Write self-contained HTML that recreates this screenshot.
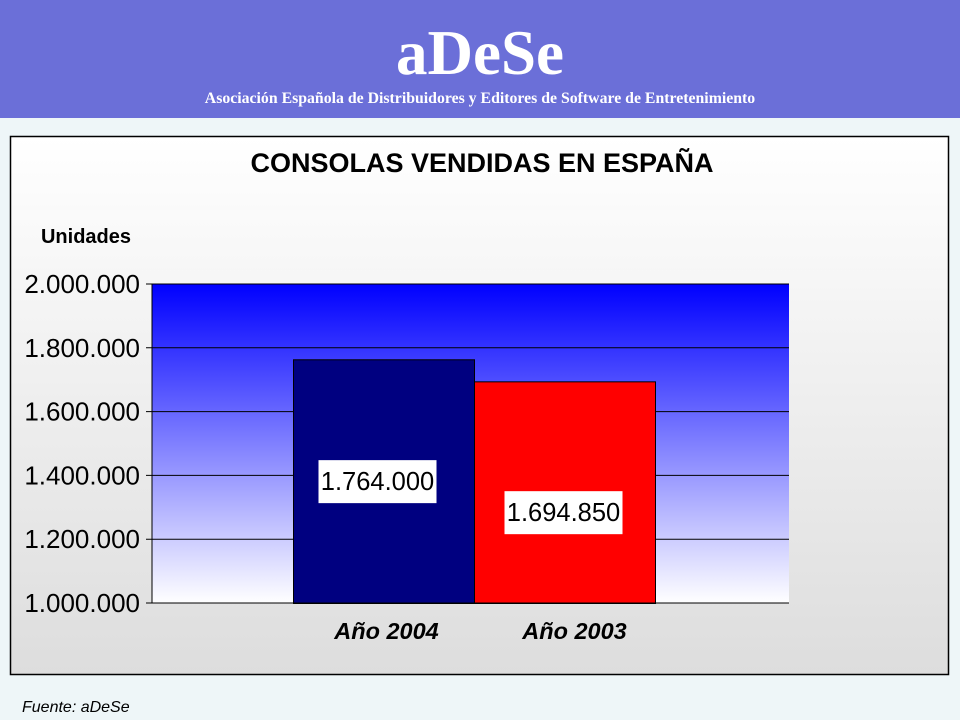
<!DOCTYPE html>
<html><head><meta charset="utf-8"><style>
html,body{margin:0;padding:0;width:960px;height:720px;overflow:hidden;background:#eef6f8;font-family:"Liberation Sans",sans-serif}
#hdr{position:absolute;left:0;top:0;width:960px;height:118px;background:#6b6fd8}
#logo{position:absolute;left:0;width:960px;top:18px;text-align:center;font-family:"Liberation Serif",serif;font-weight:bold;font-size:63px;color:#fff;line-height:70px}
#sub{position:absolute;left:0;width:960px;top:90px;text-align:center;font-family:"Liberation Serif",serif;font-weight:bold;font-size:15.8px;color:#fff}
</style></head><body>
<div id="hdr">
<div id="logo">aDeSe</div>
<div id="sub">Asociación Española de Distribuidores y Editores de Software de Entretenimiento</div>
</div>
<svg id="chart" width="960" height="720" style="position:absolute;left:0;top:0">
<defs>
<linearGradient id="bg" x1="0" y1="0" x2="0" y2="1"><stop offset="0" stop-color="#ffffff"/><stop offset="1" stop-color="#dddddd"/></linearGradient>
<linearGradient id="pg" x1="0" y1="0" x2="0" y2="1"><stop offset="0" stop-color="#0000ff"/><stop offset="1" stop-color="#ffffff"/></linearGradient>
</defs>
<rect x="10.5" y="136.5" width="938" height="538" fill="url(#bg)" stroke="#000" stroke-width="1.5"/>
<text x="482" y="172" text-anchor="middle" font-size="27" font-weight="bold" font-family="Liberation Sans, sans-serif">CONSOLAS VENDIDAS EN ESPAÑA</text>
<text x="86" y="243" text-anchor="middle" font-size="20" font-weight="bold" font-family="Liberation Sans, sans-serif">Unidades</text>
<g id="plot"></g>
<text x="22" y="712" font-size="16" font-style="italic" font-family="Liberation Sans, sans-serif">Fuente: aDeSe</text>
</svg>
<script>
const categories = ["Año 2004", "Año 2003"];
const values = [1764000, 1694850];
const valueLabels = ["1.764.000", "1.694.850"];
const ticks = [1000000, 1200000, 1400000, 1600000, 1800000, 2000000];
const tickLabels = ["1.000.000", "1.200.000", "1.400.000", "1.600.000", "1.800.000", "2.000.000"];
const barColors = ["#000080", "#ff0000"];

const NS = "http://www.w3.org/2000/svg";
const px0 = 152, px1 = 789, py0 = 284, py1 = 603;
const yMin = 1000000, yMax = 2000000;
function y(v){ return py1 - (v - yMin) / (yMax - yMin) * (py1 - py0); }
const barW = 181, groupStart = 293;
function x(i){ return groupStart + i * barW; }
const g = document.getElementById("plot");
function mk(tag, attrs){ const e = document.createElementNS(NS, tag); for (const k in attrs) e.setAttribute(k, attrs[k]); g.appendChild(e); return e; }

const bgRect = mk("rect", {x:px0, y:py0, width:px1-px0, height:py1-py0, fill:"url(#pg)"});



ticks.forEach((t, i) => {
  const ln = mk("line", {x1:px0-6, x2:px1, y1:y(t), y2:y(t), stroke:"#000", "stroke-width":1});
  
  
  const tx = mk("text", {x:140, y:y(t)+9, "text-anchor":"end", "font-size":26, "font-family":"Liberation Sans, sans-serif"});
  tx.textContent = tickLabels[i];
  
  
});
const ax = mk("line", {x1:px0, x2:px0, y1:py0, y2:py1, stroke:"#000", "stroke-width":1});



const labelOffsets = [0, 20];
const labelShiftX = [-5, 0];
const catShiftX = [3, 10];
values.forEach((v, i) => {
  const b = mk("rect", {x:x(i)+0.5, y:y(v)+0.5, width:barW, height:py1-y(v), fill:barColors[i], stroke:"#000", "stroke-width":1});
  
  
  const cx = x(i) + barW/2;
  const lx = cx + labelShiftX[i];
  const cy = (y(v) + py1)/2 + labelOffsets[i];
  const box = mk("rect", {x:lx-60, y:cy-21, width:118, height:43, fill:"#fff"});
  
  
  const t = mk("text", {x:lx-1, y:cy+9, "text-anchor":"middle", "font-size":25.5, "font-family":"Liberation Sans, sans-serif"});
  t.textContent = valueLabels[i];
  
  
  const c = mk("text", {x:cx+catShiftX[i], y:639, "text-anchor":"middle", "font-size":23.5, "font-weight":"bold", "font-style":"italic", "font-family":"Liberation Sans, sans-serif"});
  c.textContent = categories[i];
  
  
});
const xa = mk("line", {x1:px0, x2:px1, y1:py1, y2:py1, stroke:"#000", "stroke-width":1});


</script>
</body></html>
